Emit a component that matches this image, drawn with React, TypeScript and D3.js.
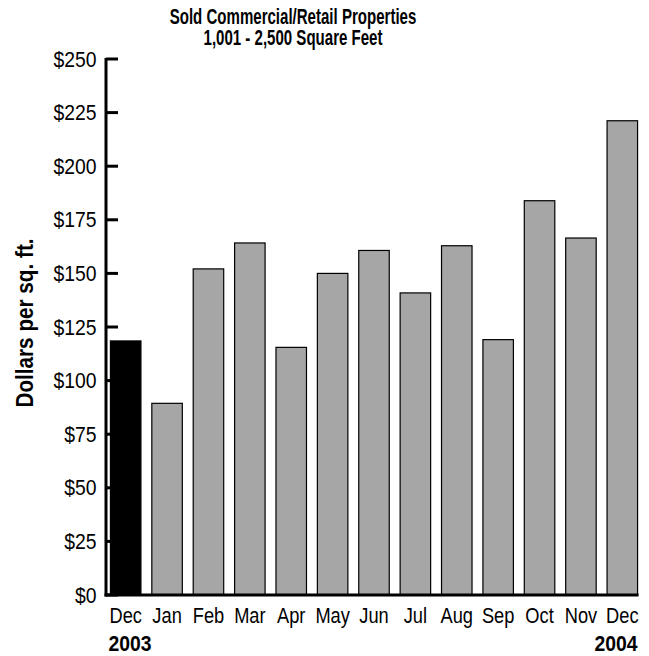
import React from "react";
import * as d3 from "d3";

const months = ["Dec", "Jan", "Feb", "Mar", "Apr", "May", "Jun", "Jul", "Aug", "Sep", "Oct", "Nov", "Dec2"];
const monthLabels = ["Dec", "Jan", "Feb", "Mar", "Apr", "May", "Jun", "Jul", "Aug", "Sep", "Oct", "Nov", "Dec"];
const values = [118.5, 89.4, 152.1, 164.2, 115.5, 150.0, 160.7, 140.9, 162.9, 119.1, 183.9, 166.5, 221.2];
const yTicks = [0, 25, 50, 75, 100, 125, 150, 175, 200, 225, 250];
const titleLines = ["Sold Commercial/Retail Properties", "1,001 - 2,500 Square Feet"];
const yLabel = "Dollars per sq. ft.";
const years = ["2003", "2004"];

const W = 649;
const H = 656;
const FONT = "'Liberation Sans', Arial, Helvetica, sans-serif";

function SText({ x, y, sx = 1, rot = 0, children, ...rest }: any) {
  return (
    <text transform={`translate(${x},${y}) rotate(${rot}) scale(${sx},1)`} {...rest}>
      {children}
    </text>
  );
}

export default function App() {
  const x0 = 106, x1 = 642, yTop = 59, yBot = 595;
  const x = d3.scaleBand<string>().domain(months).range([x0, x1]).paddingInner(0.263).paddingOuter(0.107);
  const y = d3.scaleLinear().domain([0, 250]).range([yBot, yTop]);
  const lastRight = (x(months[months.length - 1]) || 0) + x.bandwidth();
  return (
    <svg width={W} height={H} style={{ position: "absolute", left: 0, top: 0 }} fontFamily={FONT}>
      <rect width={W} height={H} fill="#fff" />
      {titleLines.map((t, i) => (
        <SText key={i} x={293} y={24 + i * 20.5} sx={0.7} textAnchor="middle" fontWeight="bold" fontSize={21.5}>{t}</SText>
      ))}
      <SText x={33} y={323} rot={-90} sx={0.9} textAnchor="middle" fontWeight="bold" fontSize={23}>{yLabel}</SText>
      {values.map((v, i) => (
        <rect key={i} x={x(months[i])} y={y(v)} width={x.bandwidth()} height={yBot - y(v)}
          fill={i === 0 ? "#000" : "#a6a6a6"} stroke="#000" strokeWidth={1.2} />
      ))}
      <line x1={x0} x2={x0} y1={yTop - 1} y2={yBot + 1.5} stroke="#000" strokeWidth={3} />
      <line x1={x0 - 1.5} x2={lastRight + 1} y1={yBot} y2={yBot} stroke="#000" strokeWidth={3} />
      {yTicks.map((t) => (
        <g key={t}>
          <line x1={x0} x2={x0 + 12} y1={y(t)} y2={y(t)} stroke="#000" strokeWidth={3} />
          <SText x={96.5} y={y(t) + 7.5} sx={0.9} textAnchor="end" fontSize={21.5}>{d3.format("$")(t)}</SText>
        </g>
      ))}
      {months.map((m, i) => (
        <SText key={m} x={(x(m) || 0) + x.bandwidth() / 2} y={623} sx={0.83} textAnchor="middle" fontSize={22}>{monthLabels[i]}</SText>
      ))}
      <SText x={(x(months[0]) || 0) - 2} y={651} sx={0.86} textAnchor="start" fontWeight="bold" fontSize={22.5}>{years[0]}</SText>
      <SText x={lastRight} y={651} sx={0.86} textAnchor="end" fontWeight="bold" fontSize={22.5}>{years[1]}</SText>
    </svg>
  );
}
